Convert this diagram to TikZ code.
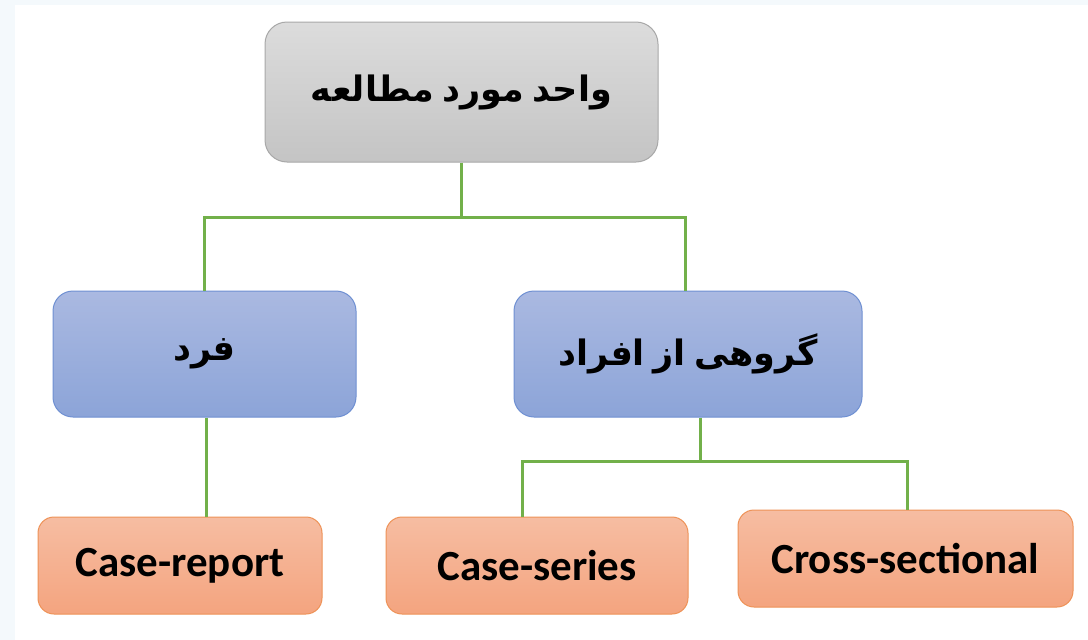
\documentclass[tikz,border=0pt]{standalone}
\usepackage{fontspec}
\setmainfont{Carlito}
\newfontfamily\arabicfont[Script=Arabic,WordSpace=0.7]{DejaVu Sans}
\TeXXeTstate=1
\definecolor{pagebg}{HTML}{F4F9FC}
\definecolor{grayT}{HTML}{DCDCDC}
\definecolor{grayB}{HTML}{C4C4C4}
\definecolor{grayD}{HTML}{A8A8A8}
\definecolor{blueT}{HTML}{AAB9E1}
\definecolor{blueB}{HTML}{8CA4D8}
\definecolor{blueD}{HTML}{6F90D2}
\definecolor{orT}{HTML}{F6BDA2}
\definecolor{orB}{HTML}{F4A47F}
\definecolor{orD}{HTML}{EE9257}
\definecolor{lineG}{HTML}{72B04A}
\tikzset{
  graybox/.style={rectangle, rounded corners=22pt, draw=grayD, line width=1pt, top color=grayT, bottom color=grayB, inner sep=0pt},
  bluebox/.style={rectangle, rounded corners=20pt, draw=blueD, line width=1pt, top color=blueT, bottom color=blueB, inner sep=0pt},
  orbox/.style={rectangle, rounded corners=16pt, draw=orD, line width=1pt, top color=orT, bottom color=orB, inner sep=0pt},
  conn/.style={draw=lineG, line width=3pt},
  artext/.style={font=\arabicfont\bfseries\fontsize{35}{40}\selectfont},
  entext/.style={font=\bfseries\fontsize{43}{46}\selectfont}
}
\begin{document}
\begin{tikzpicture}[x=1pt,y=-1pt]
\fill[pagebg] (0,0) rectangle (1088,640);
\fill[white] (15,5) rectangle (1088,640);
\useasboundingbox (0,0) rectangle (1088,640);
\node[graybox, minimum width=393pt, minimum height=140pt, artext] (top) at (461.5,92) {\beginR واحد مورد مطالعه\endR};
\node[bluebox, minimum width=303pt, minimum height=126pt, artext] (fard) at (204.5,354) {\beginR فرد\endR};
\node[bluebox, minimum width=348pt, minimum height=126pt, artext] (grp) at (688,354) {\beginR گروهی از افراد\endR};
\node[orbox, minimum width=284pt, minimum height=97pt, entext] (cr) at (180,565.5) {Case-report};
\node[orbox, minimum width=302pt, minimum height=97pt, entext] (cs) at (537,565.5) {Case-series};
\node[orbox, minimum width=335pt, minimum height=97pt, entext] (xs) at (905.5,558.5) {Cross-sectional};
\coordinate (j1) at (461.5,217);
\coordinate (j2) at (700,461);
\draw[conn] (top.south) -- (j1);
\draw[conn] (j1) -| (fard.north);
\draw[conn] (j1) -| ([xshift=-3pt]grp.north);
\draw[conn] ([xshift=2pt]fard.south) -- ([xshift=2pt]fard.south |- cr.north);
\draw[conn] ([xshift=12pt]grp.south) -- (j2);
\draw[conn] (j2) -| ([xshift=-15pt]cs.north);
\draw[conn] (j2) -| ([xshift=1.5pt]xs.north);
\end{tikzpicture}
\end{document}
